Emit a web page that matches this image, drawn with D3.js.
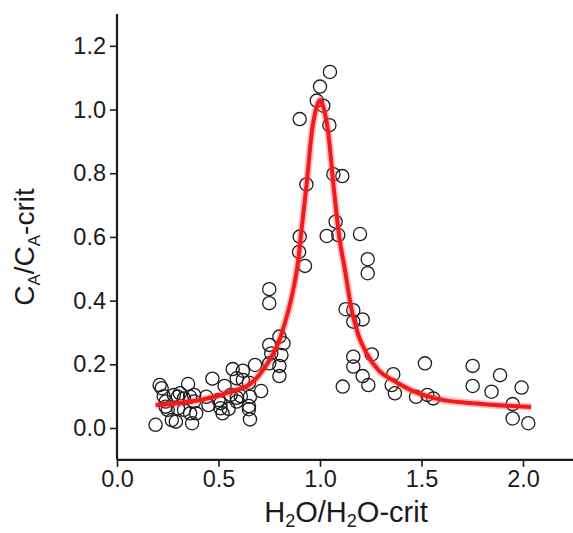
<!DOCTYPE html>
<html>
<head>
<meta charset="utf-8">
<script src="https://cdn.jsdelivr.net/npm/d3@7"></script>
<style>
  html, body { margin: 0; padding: 0; background: #fff; }
  svg { display: block; }
  text { font-family: "Liberation Sans", Arial, sans-serif; fill: #1a1a1a; }
</style>
</head>
<body>
<svg id="chart" width="573" height="533"></svg>
<script>
// ---- data ----
const pointX = [
  0.19, 0.21, 0.22, 0.23, 0.24, 0.24, 0.25, 0.27, 0.28, 0.29, 0.30, 0.30, 0.31, 0.33, 0.33,
  0.35, 0.36, 0.36, 0.37, 0.38, 0.38, 0.39, 0.44, 0.45, 0.47, 0.50, 0.51, 0.51, 0.52, 0.53,
  0.55, 0.56, 0.57, 0.59, 0.59, 0.59, 0.61, 0.62, 0.62, 0.65, 0.65, 0.65, 0.655, 0.655, 0.68,
  0.71, 0.75, 0.75, 0.76, 0.75, 0.75, 0.80, 0.82, 0.81, 0.80, 0.80,
  0.90, 0.90, 0.897, 0.926, 0.933, 0.984, 1.0, 1.016, 1.049, 1.046, 1.066, 1.11, 1.077, 1.033,
  1.09, 1.197, 1.235, 1.235, 1.126, 1.164, 1.164, 1.21, 1.255, 1.164, 1.164, 1.21, 1.238, 1.112,
  1.361, 1.353, 1.369, 1.517, 1.473, 1.529, 1.558, 1.752, 1.752, 1.845, 1.887, 1.993, 1.949,
  1.949, 2.026
];
const pointY = [
  0.010, 0.135, 0.125, 0.100, 0.083, 0.067, 0.057, 0.025, 0.104, 0.020, 0.098, 0.062, 0.109, 0.093, 0.057,
  0.138, 0.098, 0.046, 0.015, 0.083, 0.104, 0.046, 0.098, 0.072, 0.155, 0.088, 0.062, 0.078, 0.046, 0.132,
  0.060, 0.104, 0.185, 0.156, 0.083, 0.095, 0.100, 0.180, 0.151, 0.142, 0.069, 0.059, 0.098, 0.027, 0.198,
  0.116, 0.203, 0.261, 0.234, 0.436, 0.392, 0.287, 0.266, 0.229, 0.195, 0.163,
  0.970, 0.601, 0.553, 0.509, 0.765, 1.028, 1.072, 1.012, 1.118, 0.951, 0.797, 0.791, 0.648, 0.603,
  0.606, 0.609, 0.530, 0.486, 0.373, 0.370, 0.334, 0.341, 0.231, 0.224, 0.193, 0.163, 0.135, 0.130,
  0.169, 0.135, 0.109, 0.203, 0.098, 0.104, 0.093, 0.195, 0.132, 0.114, 0.166, 0.127, 0.075,
  0.030, 0.015
];
const fitX = [0.19, 0.30, 0.41, 0.50, 0.56, 0.66, 0.70, 0.75, 0.80, 0.82, 0.86, 0.893, 0.905, 0.934, 0.96,
  0.98, 1.0, 1.02, 1.04, 1.066, 1.095, 1.123, 1.156, 1.19, 1.23, 1.29, 1.36, 1.48, 1.59, 1.75, 1.92, 2.04];
const fitY = [0.072, 0.078, 0.088, 0.102, 0.114, 0.140, 0.166, 0.212, 0.275, 0.315, 0.410, 0.527, 0.600, 0.765, 0.930,
  1.000, 1.030, 1.000, 0.930, 0.765, 0.600, 0.496, 0.370, 0.290, 0.234, 0.180, 0.150, 0.110, 0.090, 0.078, 0.070, 0.066];
const xMajorTicks = [0, 0.5, 1.0, 1.5, 2.0];
const xMinorTicks = [0.25, 0.75, 1.25, 1.75, 2.25];
const yMajorTicks = [0, 0.2, 0.4, 0.6, 0.8, 1.0, 1.2];
const yMinorTicks = [0.1, 0.3, 0.5, 0.7, 0.9, 1.1];

// ---- layout ----
const svg = d3.select("#chart");
const x = d3.scaleLinear().domain([0, 2.25]).range([117, 573.75]);
const y = d3.scaleLinear().domain([-0.1, 1.3]).range([459.85, 14]);

// axes
const gx = svg.append("g").attr("transform", `translate(0,${y(-0.1)})`);
gx.call(d3.axisBottom(x).tickValues(xMinorTicks).tickSize(5).tickFormat(""));
gx.call(d3.axisBottom(x).tickValues(xMajorTicks).tickSize(7).tickPadding(3)
  .tickFormat(d3.format(".1f")));
const gy = svg.append("g").attr("transform", `translate(${x(0)},0)`);
gy.call(d3.axisLeft(y).tickValues(yMinorTicks).tickSize(4).tickFormat(""));
gy.call(d3.axisLeft(y).tickValues(yMajorTicks).tickSize(7).tickPadding(4)
  .tickFormat(d3.format(".1f")));

svg.selectAll(".domain").attr("stroke", "#1a1a1a").attr("stroke-width", 2.2);
svg.selectAll(".tick line").attr("stroke", "#1a1a1a").attr("stroke-width", 1.6);
svg.selectAll(".tick text").attr("font-size", 23.5).attr("fill", "#1a1a1a")
  .attr("font-family", "'Liberation Sans', Arial, sans-serif");
gx.selectAll(".domain").attr("d", `M${x(0)},0H573`);
gy.selectAll(".domain").attr("d", `M0,${y(-0.1)}V${y(1.3)}`);

// scatter points
const pts = pointX.map((v, i) => [v, pointY[i]]);
svg.append("g").selectAll("circle").data(pts).join("circle")
  .attr("cx", d => x(d[0])).attr("cy", d => y(d[1])).attr("r", 6.6)
  .attr("fill", "none").attr("stroke", "#1c1c1c").attr("stroke-width", 1.3);

// fit curve
const fit = fitX.map((v, i) => [v, fitY[i]]);
const line = d3.line().x(d => x(d[0])).y(d => y(d[1])).curve(d3.curveMonotoneX);
svg.append("path").attr("d", line(fit)).attr("fill", "none")
  .attr("stroke", "#ff4a4a").attr("stroke-opacity", 0.35).attr("stroke-width", 7.5)
  .attr("stroke-linecap", "butt");
svg.append("path").attr("d", line(fit)).attr("fill", "none")
  .attr("stroke", "#f21a1a").attr("stroke-width", 4)
  .attr("stroke-linecap", "butt");

// axis titles
const xt = svg.append("text").attr("x", 346).attr("y", 522).attr("text-anchor", "middle")
  .attr("font-size", 29);
xt.append("tspan").text("H");
xt.append("tspan").attr("font-size", 18).attr("dy", 5).text("2");
xt.append("tspan").attr("dy", -5).text("O/H");
xt.append("tspan").attr("font-size", 18).attr("dy", 5).text("2");
xt.append("tspan").attr("dy", -5).text("O-crit");

const yt = svg.append("text").attr("transform", "translate(34,247) rotate(-90)")
  .attr("text-anchor", "middle").attr("font-size", 28);
yt.append("tspan").text("C");
yt.append("tspan").attr("font-size", 17).attr("dy", 6).text("A");
yt.append("tspan").attr("dy", -6).text("/C");
yt.append("tspan").attr("font-size", 17).attr("dy", 6).text("A");
yt.append("tspan").attr("dy", -6).text("-crit");
</script>
</body>
</html>
